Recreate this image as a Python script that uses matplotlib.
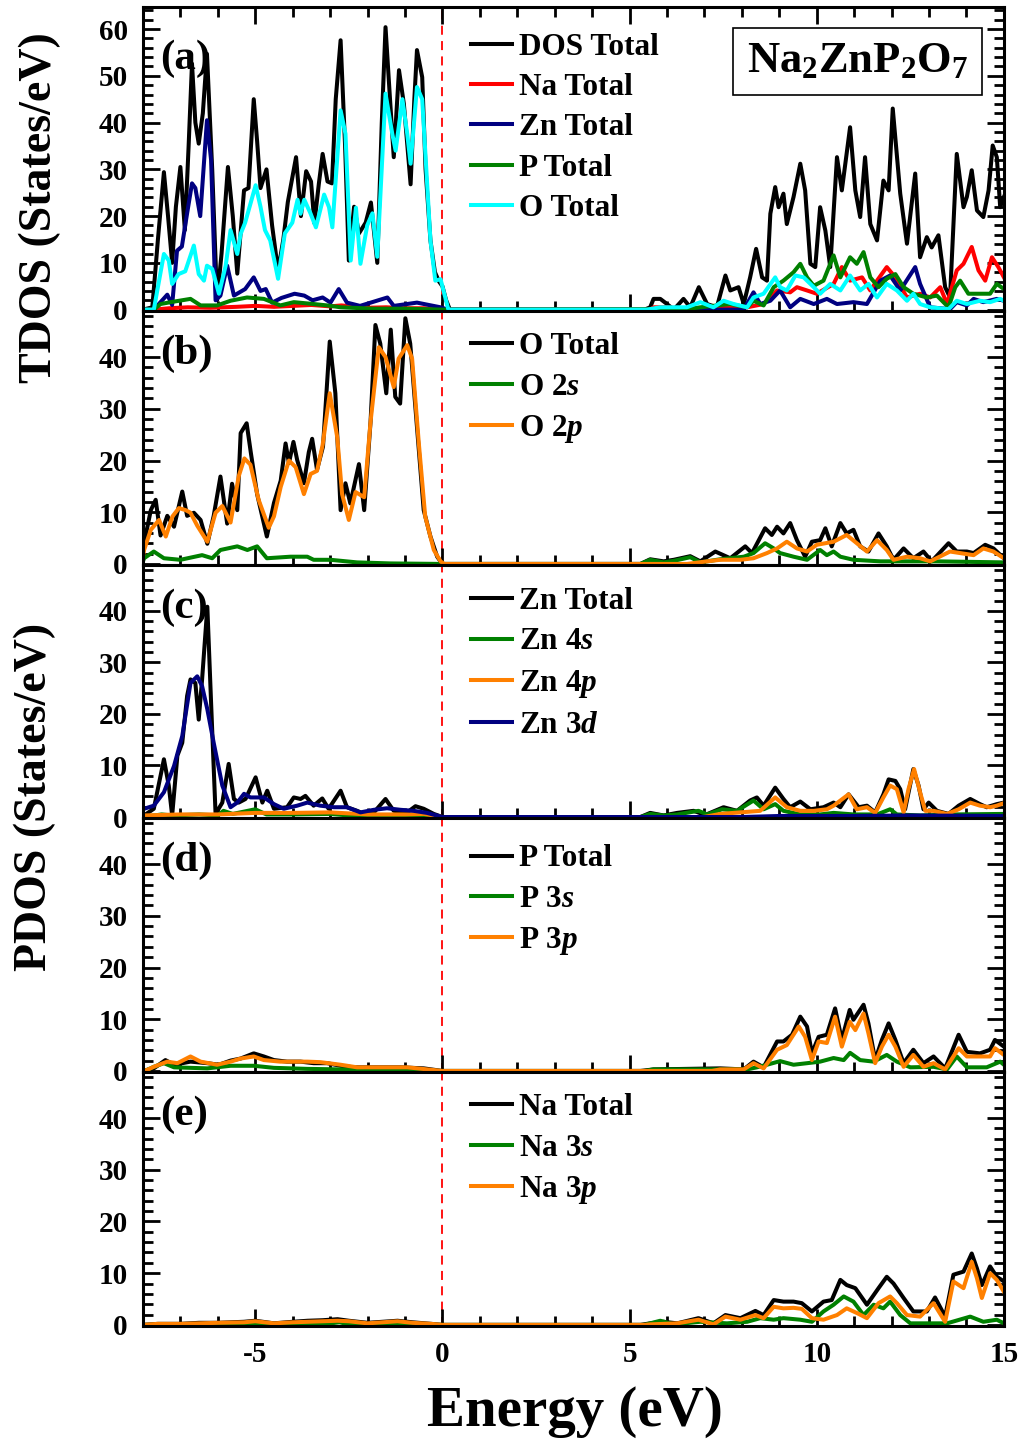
import numpy as np
import matplotlib
matplotlib.use('Agg')
import matplotlib.pyplot as plt
from matplotlib.ticker import MultipleLocator

plt.rcParams['font.family'] = ['Liberation Serif', 'DejaVu Serif']
plt.rcParams['font.weight'] = 'bold'
plt.rcParams['axes.unicode_minus'] = False
plt.rcParams['mathtext.fontset'] = 'custom'
plt.rcParams['mathtext.rm'] = 'Liberation Serif:bold'
plt.rcParams['mathtext.it'] = 'Liberation Serif:bold:italic'
plt.rcParams['mathtext.bf'] = 'Liberation Serif:bold'

# ---- (a) total DOS, pares (Energía eV, estados/eV) ----
dos_total = [(-8.0, 0), (-7.75, 0.5), (-7.6, 15), (-7.44, 29.4), (-7.33, 20), (-7.22, 10), (-7.12, 22),
             (-7.0, 30.5), (-6.88, 17), (-6.78, 35), (-6.69, 52.6), (-6.6, 40), (-6.51, 35.5), (-6.4, 42),
             (-6.29, 54.7), (-6.15, 30), (-6.02, 2), (-5.9, 12), (-5.73, 30.5), (-5.6, 20), (-5.48, 7.7),
             (-5.3, 25.5), (-5.18, 26), (-5.04, 45), (-4.95, 36), (-4.86, 26), (-4.7, 30), (-4.55, 18),
             (-4.39, 8.3), (-4.25, 15), (-4.13, 23), (-3.91, 32.6), (-3.78, 20), (-3.64, 29.6), (-3.51, 27.4),
             (-3.42, 18.5), (-3.3, 27), (-3.2, 33.3), (-3.07, 27.4), (-2.95, 27), (-2.85, 45), (-2.72, 57.6),
             (-2.6, 35), (-2.5, 10.5), (-2.36, 22), (-2.23, 16.3), (-2.05, 18.6), (-1.91, 22.9), (-1.74, 10),
             (-1.62, 40), (-1.52, 60.4), (-1.4, 45), (-1.3, 32.6), (-1.16, 51.2), (-1.03, 44), (-0.85, 26.8),
             (-0.75, 45), (-0.68, 55.5), (-0.54, 49.7), (-0.45, 30), (-0.32, 14.8), (-0.2, 8), (-0.09, 6),
             (0.0, 5), (0.1, 2), (0.2, 0),
             (5.4, 0), (5.55, 0.5), (5.64, 2.3), (5.82, 2.3), (6.0, 1.2), (6.18, 0), (6.44, 2.3), (6.62, 0.5),
             (6.85, 4.8), (7.07, 1.2), (7.33, 0.5), (7.56, 7.3), (7.69, 4.1), (7.91, 4.8), (8.05, 1.2),
             (8.22, 6.9), (8.38, 13.0), (8.54, 6.9), (8.67, 6.2), (8.76, 20.5), (8.89, 26.2), (8.98, 21.9),
             (9.11, 24.8), (9.2, 18.3), (9.38, 24.1), (9.56, 31.2), (9.69, 25.5), (9.83, 9.8), (9.96, 9.1),
             (10.09, 21.9), (10.23, 16.9), (10.36, 9.1), (10.54, 32.6), (10.67, 25.5), (10.89, 39.0),
             (11.03, 25.5), (11.16, 19.8), (11.29, 32.6), (11.43, 18.3), (11.61, 14.8), (11.78, 27.6),
             (11.92, 25.5), (12.03, 43.0), (12.23, 24.8), (12.41, 14.1), (12.63, 29.1), (12.76, 11.2),
             (12.94, 15.5), (13.07, 13.3), (13.25, 15.9), (13.43, 4.8), (13.56, 2.6), (13.74, 33.3),
             (13.92, 21.9), (14.01, 24.1), (14.14, 29.8), (14.28, 21.2), (14.45, 19.8), (14.59, 25.5),
             (14.7, 35.1), (14.81, 32.6), (14.9, 21.9), (15.0, 24.1)]

na_total = [(-8.0, 0), (-7.7, 0), (-7.3, 0.3), (-6.8, 0.5), (-6.2, 0.4), (-5.5, 0.6), (-5.0, 0.8), (-4.5, 0.6),
            (-4.0, 0.8), (-3.5, 1.0), (-3.0, 0.7), (-2.7, 0.9), (-2.0, 0.4), (-1.5, 0.5), (-1.0, 0.3),
            (-0.5, 0.3), (0.0, 0),
            (5.55, 0), (5.64, 0.5), (6.0, 0.5), (6.53, 0.1), (7.42, 0.5), (8.14, 0.5), (8.58, 1.2), (8.94, 4.1),
            (9.29, 3.7), (9.47, 4.8), (9.74, 4.1), (10.0, 3.4), (10.45, 5.5), (10.67, 9.1), (10.89, 6.2),
            (11.21, 6.9), (11.43, 4.1), (11.61, 6.2), (11.87, 9.1), (12.1, 6.9), (12.41, 2.6), (12.76, 3.4),
            (13.03, 2.6), (13.3, 4.8), (13.48, 1.2), (13.74, 8.4), (13.92, 9.8), (14.14, 13.4), (14.32, 8.4),
            (14.5, 6.2), (14.68, 11.2), (14.85, 9.1), (15.0, 6.9)]

zn_total = [(-8.0, 0), (-7.71, 0), (-7.35, 3.2), (-7.22, 1), (-7.09, 12.6), (-6.96, 13.5), (-6.82, 20.6),
            (-6.69, 27), (-6.6, 26), (-6.47, 20), (-6.29, 40.5), (-6.18, 32), (-6.06, 2), (-5.93, 3),
            (-5.75, 9.4), (-5.57, 3), (-5.27, 4.4), (-5.04, 6.9), (-4.86, 4.0), (-4.72, 4.4), (-4.55, 1.5),
            (-4.3, 2.5), (-3.95, 3.4), (-3.69, 3), (-3.47, 2.0), (-3.2, 2.6), (-2.99, 1.5), (-2.77, 4.4),
            (-2.55, 1.5), (-2.2, 0.8), (-1.47, 2.6), (-1.3, 0.8), (-0.68, 1.5), (-0.05, 0.5), (0.15, 0),
            (8.05, 0), (8.31, 3.7), (8.49, 1.2), (8.76, 1.9), (9.02, 4.1), (9.29, 0.5), (9.56, 2.3),
            (9.92, 1.2), (10.27, 2.3), (10.54, 1.2), (10.98, 1.6), (11.34, 1.2), (11.7, 6.2), (11.96, 7.3),
            (12.23, 4.1), (12.63, 9.1), (12.76, 5.5), (13.03, 0.5), (13.56, 0.1), (13.74, 1.6), (14.01, 0.9),
            (14.19, 2.3), (14.45, 1.6), (14.81, 2.3), (15.0, 1.9)]

p_total = [(-8.0, 0), (-7.71, 0), (-7.53, 1.2), (-7.26, 1.6), (-6.73, 2.3), (-6.46, 0.9), (-6.02, 0.9),
           (-5.66, 1.9), (-5.22, 2.6), (-4.77, 2.3), (-4.33, 0.9), (-3.97, 1.6), (-3.44, 1.2), (-3.08, 0.9),
           (-2.72, 0.5), (-1.83, 0.2), (-0.94, 0.2), (0.0, 0),
           (6.53, 0.1), (6.89, 0.5), (7.33, 0.9), (7.69, 1.2), (8.14, 0.5), (8.31, 1.9), (8.58, 0.9),
           (8.85, 4.8), (9.11, 6.2), (9.38, 8.0), (9.56, 9.8), (9.74, 6.9), (9.92, 5.1), (10.18, 6.2),
           (10.45, 11.6), (10.63, 6.9), (10.89, 11.2), (11.07, 9.8), (11.25, 12.3), (11.43, 6.9),
           (11.65, 4.8), (11.87, 6.6), (12.1, 7.6), (12.32, 4.8), (12.58, 3.4), (12.94, 2.6), (13.21, 3.0),
           (13.52, 0.5), (13.7, 4.8), (13.83, 6.2), (14.05, 3.4), (14.36, 3.4), (14.63, 3.4), (14.81, 5.5),
           (15.0, 4.4)]

o_total = [(-8.0, 0), (-7.71, 0), (-7.44, 11.9), (-7.31, 10.5), (-7.22, 5.5), (-7.05, 7.6), (-6.87, 8.2),
           (-6.64, 13.7), (-6.51, 7.6), (-6.37, 6.2), (-6.29, 9.4), (-6.15, 8.7), (-5.97, 3.4), (-5.79, 9.4),
           (-5.66, 17), (-5.48, 11.9), (-5.39, 16.2), (-5.27, 18.6), (-4.99, 26.6), (-4.86, 22), (-4.74, 17),
           (-4.6, 14.8), (-4.39, 6.6), (-4.21, 16.3), (-4.01, 18.6), (-3.87, 23.5), (-3.79, 20.5),
           (-3.69, 23.5), (-3.52, 20.5), (-3.38, 17.6), (-3.16, 24.6), (-3.03, 21.9), (-2.94, 17.6),
           (-2.72, 42.6), (-2.59, 37.6), (-2.45, 10.5), (-2.31, 21.8), (-2.19, 9.8), (-2.01, 18),
           (-1.87, 20.6), (-1.74, 11.3), (-1.52, 46.2), (-1.34, 37.6), (-1.25, 34), (-1.07, 45),
           (-0.94, 37.6), (-0.85, 31.2), (-0.68, 47.6), (-0.54, 45), (-0.32, 14.8), (-0.19, 6.2),
           (-0.05, 6.5), (0.16, 0),
           (5.46, 0), (5.82, 0.5), (6.53, 0.5), (6.89, 1.6), (7.24, 0.5), (7.51, 1.9), (7.78, 1.2),
           (8.14, 0.5), (8.31, 2.6), (8.58, 3.4), (8.89, 6.9), (9.02, 4.8), (9.2, 4.1), (9.43, 7.3),
           (9.65, 6.9), (9.92, 4.8), (10.09, 3.4), (10.36, 5.5), (10.63, 4.1), (10.89, 7.3), (11.16, 4.1),
           (11.38, 5.5), (11.61, 2.6), (11.87, 5.5), (12.14, 4.1), (12.41, 1.9), (12.58, 3.4), (12.76, 1.2),
           (13.03, 0.5), (13.52, 0.1), (13.74, 1.9), (14.01, 1.2), (14.36, 1.9), (14.63, 1.6), (14.9, 2.3),
           (15.0, 1.9)]

# ---- (b) O ----
o_tot_b = [(-8.0, 2.0), (-7.97, 4), (-7.79, 10.4), (-7.66, 12.4), (-7.53, 5.5), (-7.35, 9.3), (-7.17, 7.2),
           (-6.95, 14), (-6.82, 9.3), (-6.64, 9.9), (-6.46, 8.5), (-6.28, 3.9), (-6.11, 9.3), (-5.93, 16.9),
           (-5.75, 7.8), (-5.62, 15.5), (-5.48, 10.4), (-5.39, 25.3), (-5.23, 27.2), (-5.12, 21.6),
           (-4.95, 13.5), (-4.69, 5.3), (-4.5, 11.8), (-4.32, 16.1), (-4.19, 23.3), (-4.1, 19.5),
           (-3.98, 23.6), (-3.88, 20.1), (-3.7, 15.6), (-3.57, 21.6), (-3.48, 24.2), (-3.35, 18.2),
           (-3.19, 22.7), (-3.01, 43), (-2.86, 33), (-2.72, 10.4), (-2.59, 15.6), (-2.46, 11.7),
           (-2.23, 19.3), (-2.09, 10.4), (-1.92, 27.5), (-1.79, 46.2), (-1.66, 42.6), (-1.5, 33),
           (-1.38, 45.3), (-1.26, 32.3), (-1.13, 31), (-0.99, 47.5), (-0.86, 42.6), (-0.68, 26.5),
           (-0.5, 10.4), (-0.32, 5.3), (-0.14, 1.4), (0.0, 0),
           (5.29, 0), (5.55, 0.9), (5.91, 0.5), (6.18, 0.8), (6.62, 1.5), (6.89, 0.5), (7.29, 2.4),
           (7.69, 1.1), (8.09, 3.4), (8.27, 2.1), (8.62, 6.9), (8.8, 5.6), (8.94, 7.2), (9.11, 5.9),
           (9.29, 7.9), (9.47, 4.6), (9.69, 1.4), (9.87, 4.3), (10.09, 4.6), (10.23, 6.9), (10.4, 3.4),
           (10.63, 7.9), (10.8, 5.9), (10.98, 6.6), (11.16, 3.4), (11.38, 2.4), (11.65, 5.9), (11.87, 3.4),
           (12.05, 0.8), (12.32, 3.0), (12.58, 1.1), (12.85, 2.4), (13.07, 0.5), (13.52, 4.0), (13.74, 2.4),
           (14.01, 2.4), (14.19, 2.1), (14.5, 3.7), (14.72, 3.0), (15.0, 1.1)]

o_2s = [(-8.0, 0.5), (-7.97, 1.1), (-7.71, 2.4), (-7.44, 1.1), (-7.0, 0.8), (-6.42, 1.7), (-6.15, 1.1),
        (-5.93, 2.7), (-5.48, 3.4), (-5.21, 2.7), (-4.95, 3.4), (-4.69, 1.1), (-4.06, 1.4), (-3.61, 1.4),
        (-3.44, 0.8), (-2.99, 0.8), (-2.28, 0.3), (-1.39, 0.1), (0.0, 0),
        (5.29, 0), (5.55, 0.8), (5.91, 0.3), (6.18, 0.6), (6.62, 1.3), (6.89, 0.3), (7.42, 0.9),
        (8.05, 1.4), (8.31, 2.1), (8.62, 4.0), (8.85, 3.0), (9.02, 2.1), (9.38, 1.4), (9.74, 0.8),
        (10.09, 2.7), (10.27, 1.7), (10.45, 2.4), (10.63, 1.4), (10.98, 0.8), (11.7, 0.5), (12.32, 0.5),
        (13.21, 0.5), (15.0, 0.3)]

o_2p = [(-8.0, 1.5), (-7.97, 2.7), (-7.79, 6.6), (-7.57, 8.5), (-7.39, 5.3), (-7.21, 9.2), (-7.04, 10.8),
        (-6.86, 10.4), (-6.73, 9.9), (-6.55, 7.4), (-6.28, 4.3), (-6.06, 9.9), (-5.88, 11.2), (-5.66, 8.0),
        (-5.44, 17), (-5.29, 20.4), (-5.13, 19.2), (-4.91, 12.4), (-4.64, 7.0), (-4.5, 9.2), (-4.32, 14.9),
        (-4.1, 20), (-3.92, 18.7), (-3.7, 13.5), (-3.52, 17.4), (-3.35, 18.0), (-3.2, 23), (-3.01, 33),
        (-2.81, 24.5), (-2.68, 13.5), (-2.5, 8.5), (-2.32, 13.9), (-2.09, 12.9), (-1.92, 27.5),
        (-1.7, 41.9), (-1.52, 40), (-1.3, 34.2), (-1.17, 39.7), (-0.94, 42.3), (-0.81, 39.7),
        (-0.63, 23.3), (-0.46, 9.2), (-0.23, 2.7), (-0.05, 0.5), (0.05, 0),
        (6.53, 0), (7.07, 0.5), (7.42, 0.8), (7.96, 0.8), (8.31, 1.1), (8.67, 2.1), (8.94, 3.0),
        (9.2, 4.3), (9.47, 3.0), (9.74, 2.4), (10.0, 3.7), (10.45, 4.3), (10.8, 5.6), (11.07, 4.0),
        (11.34, 2.4), (11.61, 4.6), (11.87, 2.7), (12.05, 0.8), (12.41, 1.4), (12.76, 1.1), (13.03, 0.5),
        (13.56, 2.4), (13.83, 2.1), (14.19, 1.7), (14.45, 3.0), (14.72, 2.4), (15.0, 1.1)]

# ---- (c) Zn ----
zn_tot_c = [(-8.0, 0.2), (-7.97, 0.3), (-7.71, 1.6), (-7.44, 11.2), (-7.31, 6.1), (-7.22, 0.3), (-7.08, 11.9),
            (-6.95, 14.4), (-6.82, 23.5), (-6.73, 26.7), (-6.6, 26.0), (-6.51, 18.9), (-6.42, 26.7),
            (-6.28, 40.8), (-6.18, 22.2), (-6.06, 0.6), (-5.88, 2.8), (-5.71, 10.3), (-5.57, 3.5),
            (-5.44, 2.8), (-5.26, 3.5), (-4.99, 7.7), (-4.81, 2.8), (-4.68, 5.1), (-4.5, 1.6), (-4.15, 1.9),
            (-3.97, 3.8), (-3.79, 3.5), (-3.66, 4.1), (-3.44, 2.2), (-3.21, 3.6), (-3.04, 1.6), (-2.72, 5.1),
            (-2.55, 1.9), (-2.28, 1.2), (-2.01, 0.3), (-1.83, 0.9), (-1.52, 3.5), (-1.3, 1.2), (-0.94, 0.9),
            (-0.72, 2.1), (-0.5, 1.6), (-0.23, 0.6), (0.0, 0),
            (5.29, 0), (5.55, 0.8), (5.91, 0.3), (6.27, 0.8), (6.71, 1.2), (7.02, 0.4), (7.51, 1.9),
            (7.87, 1.2), (8.22, 3.2), (8.4, 3.8), (8.58, 2.2), (8.89, 5.7), (9.11, 3.5), (9.29, 1.9),
            (9.56, 3.0), (9.83, 1.5), (10.18, 1.9), (10.45, 2.8), (10.63, 1.9), (10.85, 4.4), (11.12, 1.9),
            (11.34, 2.2), (11.56, 0.9), (11.78, 4.4), (11.92, 7.3), (12.1, 7.0), (12.23, 5.4), (12.36, 1.5),
            (12.58, 9.3), (12.72, 6.1), (12.85, 1.5), (12.99, 2.8), (13.21, 1.2), (13.52, 0.6), (13.79, 2.2),
            (14.1, 3.5), (14.36, 2.5), (14.54, 1.9), (14.81, 2.5), (15.0, 2.8)]

zn_4s = [(-8.0, 0), (-7.5, 0.5), (-7.2, 0.3), (-6.5, 0.5), (-6.0, 0.3), (-5.85, 1.2), (-5.6, 0.6),
         (-5.0, 1.5), (-4.7, 0.5), (-4.0, 0.5), (-3.0, 0.6), (-2.5, 0.3), (-1.5, 0.3), (0.0, 0),
         (5.29, 0), (5.55, 0.6), (5.91, 0.3), (6.27, 0.5), (6.84, 1.2), (7.07, 0.5), (7.47, 1.5),
         (7.87, 1.2), (8.31, 3.2), (8.58, 1.5), (8.89, 2.5), (9.11, 1.2), (9.56, 0.5), (10.09, 0.5),
         (10.45, 0.8), (10.98, 0.5), (11.61, 0.5), (11.96, 1.5), (12.14, 0.5), (12.76, 0.3),
         (13.65, 0.5), (15.0, 0.6)]

zn_4p = [(-8.0, 0.3), (-7.0, 0.5), (-6.0, 0.5), (-5.0, 0.8), (-4.0, 0.8), (-3.0, 0.9), (-2.0, 0.5),
         (-1.0, 0.5), (-0.5, 0.6), (0.0, 0),
         (6.98, 0), (7.42, 0.6), (8.14, 1.0), (8.49, 1.2), (8.89, 3.8), (9.2, 1.9), (9.56, 1.2),
         (9.92, 1.2), (10.27, 1.5), (10.45, 2.2), (10.85, 4.4), (11.07, 1.5), (11.34, 1.9), (11.56, 0.8),
         (11.78, 3.8), (11.96, 6.1), (12.14, 5.4), (12.32, 0.9), (12.45, 5.4), (12.6, 9.3), (12.76, 4.8),
         (12.9, 1.2), (13.12, 1.2), (13.48, 0.6), (13.79, 1.5), (14.1, 2.8), (14.36, 2.2), (14.63, 1.9),
         (14.81, 2.2), (15.0, 2.7)]

zn_3d = [(-8.06, 1.2), (-7.97, 1.6), (-7.71, 2.2), (-7.44, 4.8), (-7.17, 9.9), (-6.95, 15.7), (-6.73, 26.0),
         (-6.55, 27.3), (-6.42, 25.4), (-6.28, 20.9), (-6.11, 14.4), (-5.88, 6.1), (-5.66, 1.9),
         (-5.48, 2.8), (-5.3, 4.5), (-5.13, 3.8), (-4.77, 3.8), (-4.5, 2.5), (-4.24, 1.6), (-3.88, 2.2),
         (-3.61, 2.8), (-3.26, 2.2), (-2.9, 1.9), (-2.55, 1.9), (-2.19, 0.9), (-1.83, 1.4), (-1.48, 1.7),
         (-1.12, 1.4), (-0.77, 1.2), (-0.41, 0.8), (0.0, 0),
         (8.0, 0), (9.0, 0.2), (11.0, 0.2), (12.5, 0.3), (15.0, 0.2)]

# ---- (d) P ----
p_tot_d = [(-8.0, 0), (-7.89, 0.2), (-7.71, 0.5), (-7.4, 2.1), (-7.17, 1.2), (-6.73, 1.8), (-6.28, 1.5),
           (-5.97, 1.2), (-5.66, 2.0), (-5.39, 2.4), (-5.04, 3.4), (-4.77, 2.8), (-4.5, 2.1), (-4.15, 1.8),
           (-3.79, 1.8), (-3.44, 1.5), (-3.08, 1.5), (-2.72, 1.0), (-2.37, 0.7), (-1.83, 0.7), (-1.12, 0.7),
           (-0.5, 0.5), (0.0, 0),
           (5.29, 0), (5.64, 0.3), (6.53, 0.4), (7.42, 0.5), (8.05, 0.3), (8.31, 1.8), (8.58, 0.7),
           (8.94, 5.7), (9.11, 5.7), (9.34, 7.0), (9.56, 10.5), (9.74, 8.6), (9.87, 3.4), (10.05, 6.6),
           (10.27, 7.0), (10.49, 12.1), (10.67, 6.0), (10.88, 11.8), (10.98, 9.9), (11.25, 12.8),
           (11.38, 9.2), (11.56, 2.1), (11.74, 6.0), (11.92, 9.2), (12.1, 6.0), (12.32, 1.5), (12.58, 4.1),
           (12.85, 1.5), (13.12, 2.8), (13.43, 0.5), (13.79, 7.0), (14.01, 3.7), (14.36, 3.4), (14.63, 4.1),
           (14.76, 6.0), (15.0, 4.7)]

p_3s = [(-8.0, 0), (-7.89, 0.2), (-7.71, 0.8), (-7.44, 1.5), (-7.17, 0.7), (-6.28, 0.5), (-5.66, 1.0),
        (-5.04, 1.0), (-4.5, 0.6), (-3.61, 0.4), (0.0, 0),
        (5.4, 0), (5.64, 0.3), (8.14, 0.3), (8.4, 0.7), (8.67, 1.2), (9.02, 1.9), (9.38, 1.2), (9.74, 1.5),
        (10.09, 1.8), (10.45, 2.5), (10.72, 2.1), (10.89, 3.5), (11.16, 2.1), (11.52, 1.8), (11.87, 3.1),
        (12.14, 1.8), (12.5, 0.7), (13.12, 0.8), (13.48, 0.3), (13.74, 2.8), (14.01, 0.7), (14.54, 0.7),
        (14.9, 1.8), (15.0, 1.2)]

p_3p = [(-8.0, 0), (-7.89, 0.2), (-7.71, 0.8), (-7.35, 1.8), (-7.08, 1.5), (-6.73, 2.8), (-6.46, 1.8),
        (-6.02, 1.2), (-5.66, 1.8), (-5.39, 2.4), (-5.04, 2.8), (-4.77, 2.1), (-4.33, 1.8), (-3.97, 1.8),
        (-3.61, 1.8), (-3.26, 1.7), (-2.72, 1.2), (-2.28, 0.7), (-1.83, 0.7), (-0.94, 0.7), (0.0, 0),
        (7.2, 0), (7.42, 0.3), (8.05, 0.3), (8.31, 1.5), (8.58, 0.5), (8.94, 4.1), (9.2, 5.0), (9.52, 8.6),
        (9.69, 6.6), (9.87, 2.1), (10.05, 5.7), (10.27, 5.4), (10.49, 10.5), (10.67, 4.7), (10.88, 9.5),
        (11.03, 7.9), (11.25, 11.1), (11.38, 7.3), (11.56, 1.5), (11.74, 4.7), (11.92, 7.0), (12.1, 4.7),
        (12.32, 0.8), (12.58, 3.1), (12.85, 0.8), (13.12, 1.5), (13.43, 0.3), (13.79, 4.4), (14.01, 2.8),
        (14.36, 2.8), (14.63, 2.8), (14.76, 4.4), (15.0, 3.1)]

# ---- (e) Na ----
na_tot_e = [(-8.0, 0), (-7.6, 0.2), (-7.0, 0.2), (-6.5, 0.4), (-6.0, 0.4), (-5.3, 0.6), (-5.0, 0.8),
            (-4.5, 0.3), (-4.0, 0.6), (-3.6, 0.8), (-3.2, 0.9), (-2.8, 1.1), (-2.5, 0.8), (-2.0, 0.4),
            (-1.6, 0.6), (-1.2, 0.8), (-0.8, 0.5), (-0.3, 0.2), (0.0, 0),
            (5.29, 0), (5.55, 0.3), (5.91, 0.6), (6.27, 0.3), (6.84, 1.3), (7.24, 0.3), (7.56, 1.9),
            (7.96, 1.3), (8.36, 2.7), (8.58, 1.9), (8.85, 4.8), (9.11, 4.5), (9.38, 4.5), (9.6, 4.2),
            (9.87, 2.6), (10.18, 4.5), (10.4, 4.8), (10.63, 8.7), (10.8, 7.7), (11.03, 7.1), (11.34, 3.9),
            (11.65, 7.1), (11.87, 9.3), (12.05, 8.0), (12.32, 5.2), (12.58, 2.6), (12.94, 2.6), (13.16, 5.3),
            (13.43, 1.6), (13.65, 9.7), (13.92, 10.3), (14.14, 13.8), (14.28, 10.9), (14.41, 7.7),
            (14.63, 11.3), (14.81, 9.3), (15.0, 8.4)]

na_3s = [(-8.0, 0), (-4.0, 0.1), (-3.5, 0.3), (-3.2, 0.1), (-2.75, 0.5), (-2.5, 0.1), (0.0, 0),
         (5.4, 0), (5.55, 0.3), (5.82, 0.8), (6.18, 0.1), (6.89, 0.6), (7.6, 0.3), (8.14, 0.6), (8.49, 1.3),
         (8.85, 1.0), (9.11, 1.3), (9.56, 1.0), (9.87, 0.6), (10.18, 2.6), (10.45, 3.9), (10.72, 5.5),
         (10.98, 4.5), (11.25, 1.9), (11.52, 3.9), (11.78, 3.2), (11.96, 4.5), (12.23, 1.9), (12.5, 0.3),
         (12.94, 0.3), (13.48, 0.3), (14.1, 1.6), (14.45, 0.6), (14.81, 1.0), (15.0, 0.3)]

na_3p = [(-8.0, 0), (-7.6, 0.2), (-7.0, 0.2), (-6.5, 0.3), (-6.0, 0.4), (-5.3, 0.5), (-5.0, 0.7),
         (-4.5, 0.3), (-4.0, 0.5), (-3.6, 0.6), (-3.2, 0.7), (-2.8, 0.8), (-2.5, 0.7), (-2.0, 0.3),
         (-1.6, 0.5), (-1.2, 0.7), (-0.8, 0.4), (-0.3, 0.2), (0.0, 0),
         (5.4, 0), (5.55, 0.1), (6.27, 0.3), (6.84, 1.0), (7.24, 0.1), (7.56, 1.6), (7.96, 1.0), (8.36, 1.9),
         (8.58, 1.3), (8.85, 3.5), (9.11, 3.2), (9.38, 3.3), (9.6, 3.1), (9.87, 1.3), (10.18, 1.0),
         (10.54, 1.9), (10.8, 3.2), (11.07, 2.3), (11.34, 1.3), (11.65, 4.2), (11.96, 5.5), (12.14, 4.2),
         (12.41, 1.9), (12.76, 1.6), (13.12, 4.2), (13.43, 0.6), (13.65, 8.4), (13.92, 7.1), (14.14, 12.2),
         (14.28, 9.0), (14.41, 5.2), (14.63, 10.0), (14.81, 8.7), (15.0, 6.4)]

BLACK, RED, NAVY, GREEN, CYAN, ORANGE = 'black', '#ff0000', '#000080', '#008000', '#00ffff', '#ff8000'

# (curvas, etiqueta del panel, posición y de la leyenda, ylim superior)
panels = [
    ([(dos_total, BLACK, 'DOS Total'), (na_total, RED, 'Na Total'), (zn_total, NAVY, 'Zn Total'),
      (p_total, GREEN, 'P Total'), (o_total, CYAN, 'O Total')], '(a)', 0.915, 64.7),
    ([(o_tot_b, BLACK, 'O Total'), (o_2s, GREEN, 'O 2$s$'), (o_2p, ORANGE, 'O 2$p$')], '(b)', 0.916, 48.9),
    ([(zn_tot_c, BLACK, 'Zn Total'), (zn_4s, GREEN, 'Zn 4$s$'), (zn_4p, ORANGE, 'Zn 4$p$'),
      (zn_3d, NAVY, 'Zn 3$d$')], '(c)', 0.912, 48.9),
    ([(p_tot_d, BLACK, 'P Total'), (p_3s, GREEN, 'P 3$s$'), (p_3p, ORANGE, 'P 3$p$')], '(d)', 0.896, 48.9),
    ([(na_tot_e, BLACK, 'Na Total'), (na_3s, GREEN, 'Na 3$s$'), (na_3p, ORANGE, 'Na 3$p$')], '(e)', 0.916, 48.9),
]

# posiciones de los ejes en fracción de figura (bottom, height)
boxes = [(0.7843, 0.2108), (0.6082, 0.1761), (0.4327, 0.1755), (0.2566, 0.1761), (0.0805, 0.1761)]

fig = plt.figure(figsize=(10.24, 14.42), dpi=100)

for i, ((curves, tag, leg_y, ytop), (b, h)) in enumerate(zip(panels, boxes)):
    ax = fig.add_axes([0.1396, b, 0.8408, h])
    ax.axvline(0, color='red', ls='--', lw=1.3, dashes=(5, 3.5), zorder=1)
    for pts, col, lab in curves:
        e, v = np.array(pts).T
        ax.plot(e, v, color=col, lw=2.9, label=lab, zorder=2)
    ax.set_xlim(-8, 15)
    ax.set_ylim(-0.3 if i == 0 else -0.2, ytop)
    ax.xaxis.set_major_locator(MultipleLocator(5))
    ax.xaxis.set_minor_locator(MultipleLocator(1))
    ax.yaxis.set_major_locator(MultipleLocator(10))
    ax.yaxis.set_minor_locator(MultipleLocator(2))
    ax.tick_params(which='both', direction='in', top=(i == 0), right=True, width=2, labelsize=21, pad=11)
    ax.tick_params(which='major', length=12)
    ax.tick_params(which='minor', length=7)
    for s in ax.spines.values():
        s.set_linewidth(2.2)
    if i < 4:
        ax.tick_params(labelbottom=False)
    ax.text(0.02, 0.83, tag, transform=ax.transAxes, fontsize=31, ha='left', va='center')
    ax.legend(loc='upper left', bbox_to_anchor=(0.381, leg_y), frameon=False, fontsize=22.5,
              handlelength=1.3, handletextpad=0.25, labelspacing=0.36, borderpad=0, borderaxespad=0)
    if i == 0:
        ax.text(0.83, 0.822, 'Na$_2$ZnP$_2$O$_7$', transform=ax.transAxes, fontsize=32,
                ha='center', va='center',
                bbox=dict(boxstyle='square,pad=0.3', fc='white', ec='black', lw=1.2))

fig.text(0.039, 0.856, 'TDOS (States/eV)', rotation=90, ha='center', va='center', fontsize=33)
fig.text(0.034, 0.447, 'PDOS (States/eV)', rotation=90, ha='center', va='center', fontsize=33)
fig.text(0.5615, 0.021, 'Energy (eV)', ha='center', va='center', fontsize=41)

fig.savefig('out.png', dpi=100)
